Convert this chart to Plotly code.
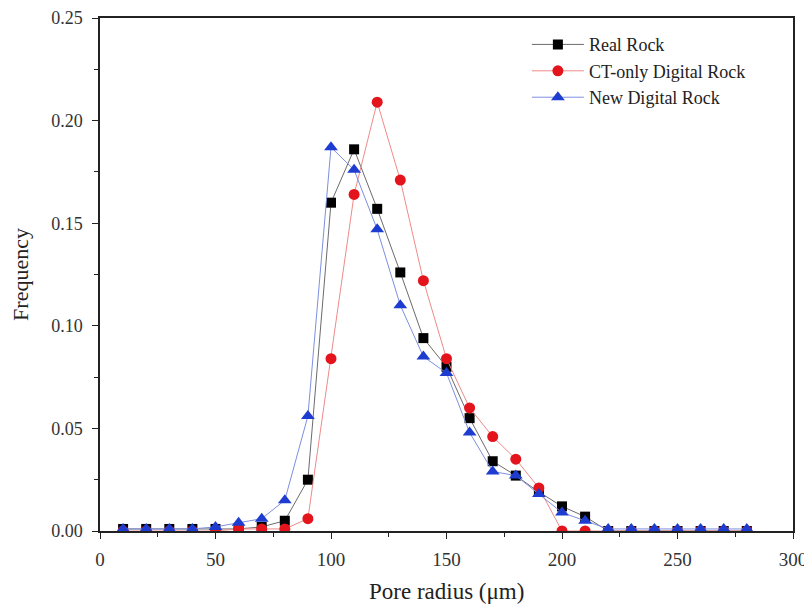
import plotly.graph_objects as go

radius = [10, 20, 30, 40, 50, 60, 70, 80, 90, 100, 110, 120, 130, 140, 150, 160, 170, 180, 190, 200,
          210, 220, 230, 240, 250, 260, 270, 280]

real_rock = [0.001, 0.001, 0.001, 0.001, 0.001, 0.001, 0.002, 0.005, 0.025, 0.160, 0.186, 0.157, 0.126, 0.094,
             0.080, 0.055, 0.034, 0.027, 0.019, 0.012, 0.007, 0.0, 0.0, 0.0, 0.0, 0.0, 0.0, 0.0]

ct_only = [0.0, 0.0, 0.0, 0.0, 0.0, 0.001, 0.001, 0.001, 0.006, 0.084, 0.164, 0.209, 0.171, 0.122,
           0.084, 0.060, 0.046, 0.035, 0.021, 0.0, 0.0, 0.0, 0.0, 0.0, 0.0, 0.0, 0.0, 0.0]

new_digital = [0.001, 0.001, 0.001, 0.001, 0.002, 0.004, 0.006, 0.015, 0.056, 0.187, 0.176, 0.147, 0.110,
               0.085, 0.077, 0.048, 0.029, 0.027, 0.018, 0.009, 0.005, 0.001, 0.001, 0.001, 0.001, 0.001,
               0.001, 0.001]

x_title = "Pore radius (μm)"
y_title = "Frequency"

font = "Liberation Serif, Times New Roman, serif"

fig = go.Figure()
fig.add_trace(go.Scatter(x=radius, y=real_rock, mode="lines+markers", name="Real Rock",
                         line=dict(color="#6b6b6b", width=1),
                         marker=dict(symbol="square", size=10, color="#000000")))
fig.add_trace(go.Scatter(x=radius, y=ct_only, mode="lines+markers", name="CT-only Digital Rock",
                         line=dict(color="#ee8a8a", width=1),
                         marker=dict(symbol="circle", size=11, color="#e3141c")))
fig.add_trace(go.Scatter(x=radius, y=new_digital, mode="lines+markers", name="New Digital Rock",
                         line=dict(color="#7d8fe0", width=1),
                         marker=dict(symbol="triangle-up", size=12, color="#1e3ccf")))

axis_common = dict(showline=True, linecolor="#222", linewidth=1.5, mirror=True, showgrid=False,
                   zeroline=False, ticks="outside", ticklen=6, tickcolor="#222", automargin=False)

fig.update_xaxes(range=[0, 300], dtick=50, tick0=0, ticklabelstandoff=4,
                 tickfont=dict(family=font, size=19, color="#333"),
                 minor=dict(ticks="outside", ticklen=4, dtick=25, tickcolor="#222"),
                 **axis_common)
fig.update_yaxes(range=[0, 0.25], dtick=0.05, tick0=0, tickformat=".2f", ticklabelstandoff=6,
                 tickfont=dict(family=font, size=18, color="#333"),
                 minor=dict(ticks="outside", ticklen=4, dtick=0.025, tickcolor="#222"),
                 title=dict(text=y_title, font=dict(family=font, size=22, color="#222"), standoff=16),
                 **axis_common)

fig.add_annotation(text=x_title, xref="paper", yref="paper", x=0.5, y=-0.117,
                   xanchor="center", yanchor="middle", showarrow=False,
                   font=dict(family=font, size=23, color="#222"))

fig.update_layout(
    width=804, height=603,
    margin=dict(l=92, r=19, t=10, b=80, autoexpand=False),
    plot_bgcolor="white", paper_bgcolor="white",
    font=dict(family=font, size=18, color="#222"),
    legend=dict(x=0.616, y=0.984, xanchor="left", yanchor="top", bgcolor="rgba(255,255,255,0)",
                font=dict(family=font, size=18, color="#222"), tracegroupgap=0, itemwidth=52),
)

fig.write_html("out.html")
